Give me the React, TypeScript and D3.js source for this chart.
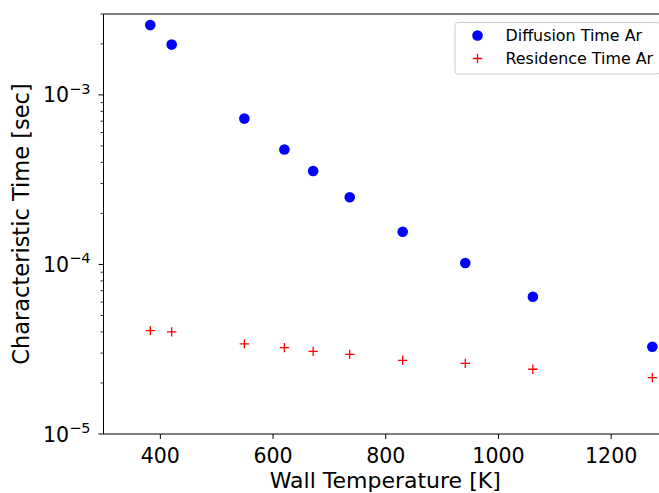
import React, { useEffect, useRef } from 'react'
import * as d3 from 'd3'

// wall temperature [K]
const temps = [383, 421, 550, 621, 672, 737, 831, 942, 1062, 1274]
// characteristic times [sec]
const diffusionTime = [2.58e-3, 1.98e-3, 7.25e-4, 4.76e-4, 3.56e-4, 2.49e-4, 1.56e-4, 1.02e-4, 6.45e-5, 3.27e-5]
const residenceTime = [4.07e-5, 4.0e-5, 3.4e-5, 3.23e-5, 3.07e-5, 2.95e-5, 2.72e-5, 2.61e-5, 2.41e-5, 2.15e-5]

const xTicks = [400, 600, 800, 1000, 1200]
const yMajor = [1e-5, 1e-4, 1e-3]
const yExponents = ['−5', '−4', '−3']
const legendLabels = ['Diffusion Time Ar', 'Residence Time Ar']

const FONT = 'DejaVu Sans, sans-serif'

function drawChart(node: SVGSVGElement) {
    const svg = d3.select(node)
    svg.selectAll('*').remove()

    const left = 103.5, right = 667, top = 14, bottom = 434

    const x = d3.scaleLinear().domain([300, 1300]).range([left, right])
    const y = d3.scaleLog().domain([1e-5, 3e-3]).range([bottom, top])

    // x axis ticks
    const xAxis = d3.axisBottom(x).tickValues(xTicks).tickSize(5).tickPadding(9).tickFormat(d3.format('d'))
    const gx = svg.append('g')
        .attr('transform', `translate(0,${bottom})`)
        .call(xAxis)
    gx.select('.domain').remove()
    gx.selectAll('text').attr('font-family', FONT).attr('font-size', 20.5).attr('fill', '#000')
    gx.selectAll('line').attr('stroke', '#000').attr('stroke-width', 1)

    // y minor ticks
    let minor: number[] = []
    for (let e = -5; e <= -3; e++) {
        for (let m = 2; m <= 9; m++) {
            const v = m * Math.pow(10, e)
            if (v <= 3.0001e-3) minor.push(v)
        }
    }
    svg.append('g').selectAll('line.minor')
        .data(minor)
        .enter()
        .append('line')
        .attr('x1', left - 3)
        .attr('x2', left)
        .attr('y1', d => y(d))
        .attr('y2', d => y(d))
        .attr('stroke', '#000')
        .attr('stroke-width', 0.8)

    // y major ticks
    svg.append('g').selectAll('line.major')
        .data(yMajor)
        .enter()
        .append('line')
        .attr('x1', left - 5)
        .attr('x2', left)
        .attr('y1', d => y(d))
        .attr('y2', d => y(d))
        .attr('stroke', '#000')
        .attr('stroke-width', 1)

    const yLabels = svg.append('g').selectAll('text')
        .data(yMajor)
        .enter()
        .append('text')
        .attr('x', left - 13)
        .attr('y', d => y(d) + 7.5)
        .attr('text-anchor', 'end')
        .attr('font-family', FONT)
        .attr('font-size', 20.5)
    yLabels.append('tspan').text('10')
    yLabels.append('tspan')
        .attr('font-size', 14.5)
        .attr('dy', -8.5)
        .text((d, i) => yExponents[i])

    // spines
    svg.append('path')
        .attr('d', `M${left},${top}H${right}V${bottom}H${left}Z`)
        .attr('fill', 'none')
        .attr('stroke', '#000')
        .attr('stroke-width', 1)

    // points
    const diffData = temps.map((t, i) => ({ t, v: diffusionTime[i] }))
    const resData = temps.map((t, i) => ({ t, v: residenceTime[i] }))

    svg.append('g').selectAll('circle')
        .data(diffData)
        .enter()
        .append('circle')
        .attr('cx', d => x(d.t))
        .attr('cy', d => y(d.v))
        .attr('r', 5.3)
        .attr('fill', '#0000ff')

    svg.append('g').selectAll('path')
        .data(resData)
        .enter()
        .append('path')
        .attr('d', 'M-4.7,0H4.7M0,-4.7V4.7')
        .attr('transform', d => `translate(${x(d.t)},${y(d.v)})`)
        .attr('stroke', '#ff0000')
        .attr('stroke-width', 1.3)
        .attr('fill', 'none')

    // axis labels
    svg.append('text')
        .attr('x', (left + right) / 2)
        .attr('y', 487.5)
        .attr('text-anchor', 'middle')
        .attr('font-family', FONT)
        .attr('font-size', 22)
        .text('Wall Temperature [K]')

    svg.append('text')
        .attr('transform', `translate(28.5,${(top + bottom) / 2}) rotate(-90)`)
        .attr('text-anchor', 'middle')
        .attr('font-family', FONT)
        .attr('font-size', 22.5)
        .text('Characteristic Time [sec]')

    // legend
    const lg = svg.append('g')
    lg.append('rect')
        .attr('x', 455)
        .attr('y', 22.5)
        .attr('width', 205)
        .attr('height', 51.5)
        .attr('rx', 3)
        .attr('fill', '#fff')
        .attr('fill-opacity', 0.8)
        .attr('stroke', '#cccccc')
        .attr('stroke-width', 1)
    const rows = [35.5, 58.5]
    lg.append('circle').attr('cx', 477.5).attr('cy', rows[0]).attr('r', 5.3).attr('fill', '#0000ff')
    lg.append('path')
        .attr('d', 'M-4.7,0H4.7M0,-4.7V4.7')
        .attr('transform', `translate(477.5,${rows[1]})`)
        .attr('stroke', '#ff0000')
        .attr('stroke-width', 1.3)
    lg.selectAll('text')
        .data(legendLabels)
        .enter()
        .append('text')
        .attr('x', 505.5)
        .attr('y', (d, i) => rows[i] + 5.8)
        .attr('font-family', FONT)
        .attr('font-size', 15.9)
        .text(d => d)
}

export default function App() {
    const ref = useRef<SVGSVGElement>(null)

    useEffect(() => {
        if (ref.current) drawChart(ref.current)
    }, [])

    return (
        <svg ref={ref} width={659} height={493}
            style={{ position: 'absolute', left: 0, top: 0, background: '#fff' }} />
    )
}
